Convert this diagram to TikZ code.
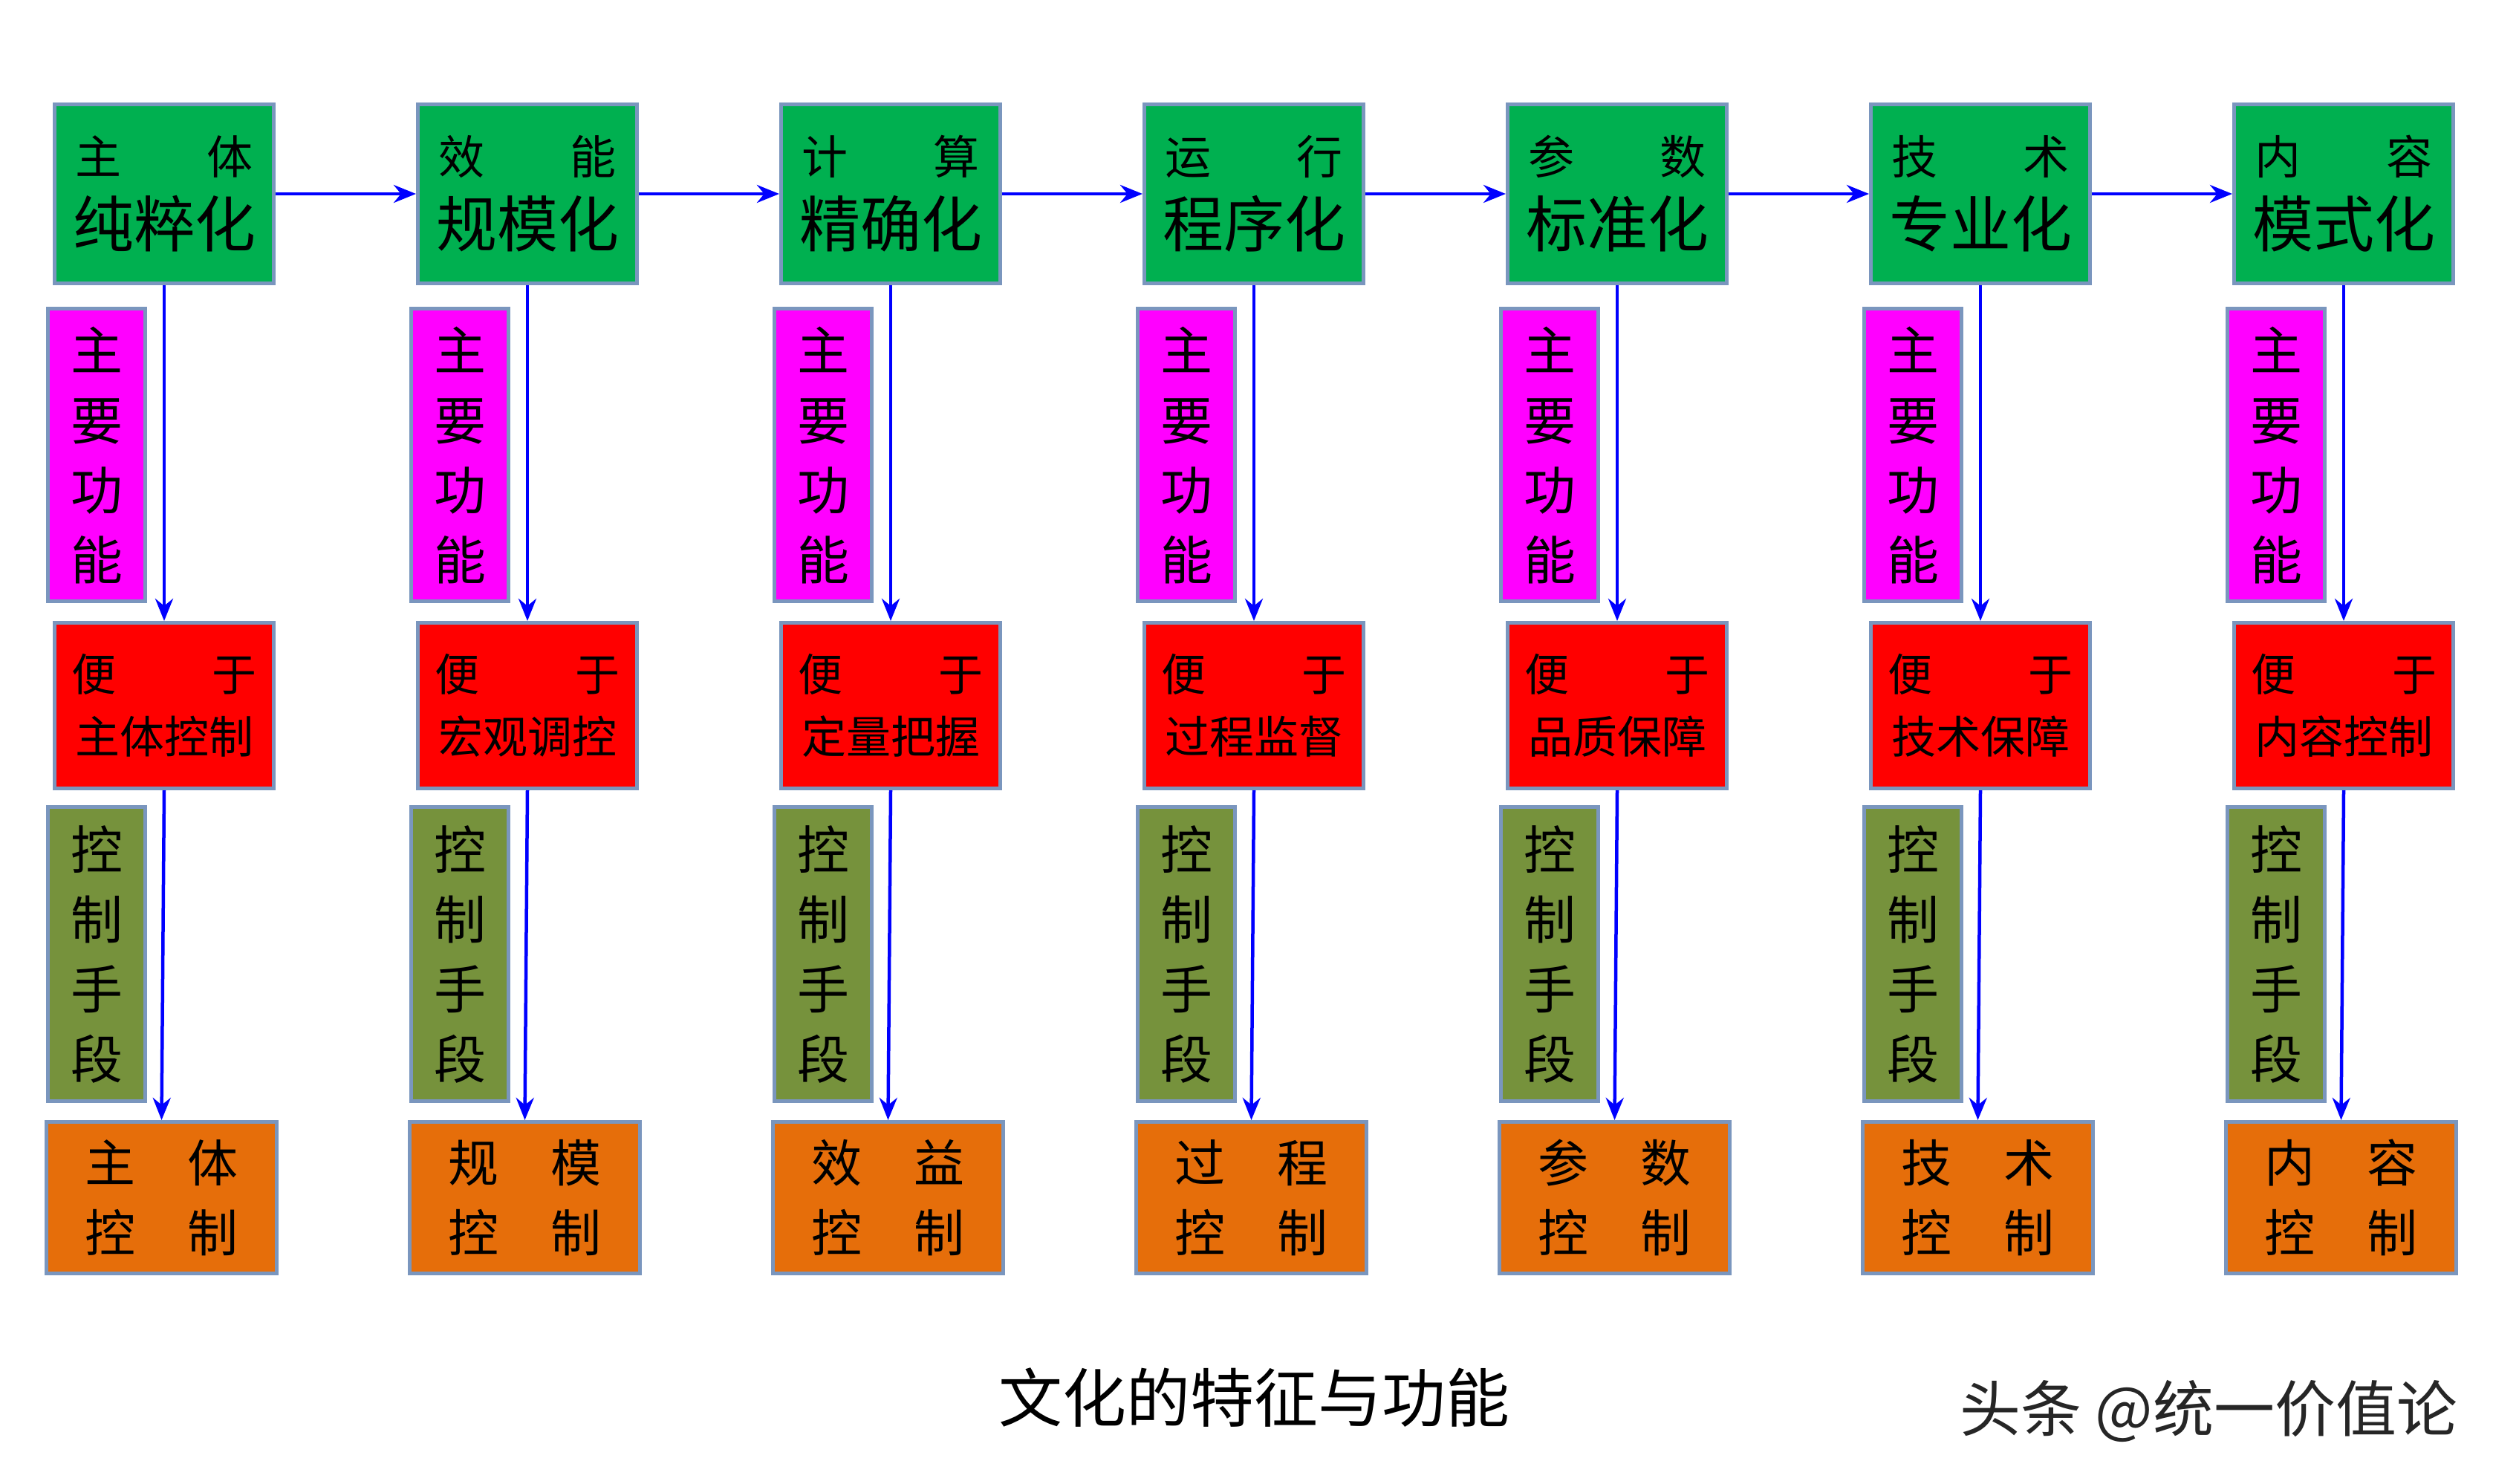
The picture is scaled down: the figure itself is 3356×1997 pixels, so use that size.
\documentclass[tikz,border=0pt]{standalone}
\usepackage{fontspec}
\setmainfont{Noto Sans CJK SC}
\usepackage{tikz}
\usetikzlibrary{arrows.meta}
\definecolor{boxline}{RGB}{122,150,190}
\definecolor{gfill}{RGB}{0,176,80}
\definecolor{mfill}{RGB}{255,0,255}
\definecolor{rfill}{RGB}{255,0,0}
\definecolor{kfill}{RGB}{118,146,60}
\definecolor{ofill}{RGB}{230,110,10}
\tikzset{
  box/.style={draw=boxline, line width=5pt, anchor=north west, inner sep=0pt, align=center, text=black},
  link/.style={draw=blue, line width=4.5pt, -{Stealth[length=30pt,width=24pt]}},
}
\begin{document}
\begin{tikzpicture}[x=1pt,y=-1pt]
\useasboundingbox[fill=white] (0,0) rectangle (3356,1997);

\foreach \i/\a/\b/\c/\r/\p/\q in {0/主/体/纯粹化/主体控制/主/体,1/效/能/规模化/宏观调控/规/模,2/计/算/精确化/定量把握/效/益,3/运/行/程序化/过程监督/过/程,4/参/数/标准化/品质保障/参/数,5/技/术/专业化/技术保障/技/术,6/内/容/模式化/内容控制/内/容}{
  %green: feature
  \node[box, fill=gfill, minimum width=295pt, minimum height=241pt,
    font=\fontsize{82}{98}\selectfont] (g\i) at (71+489*\i,138)
    {{\fontsize{62}{98}\selectfont\makebox[240pt]{\a\hfill\b}}\\\c};
  %magenta: main function
  \node[box, fill=mfill, minimum width=131pt, minimum height=394pt,
    font=\fontsize{70}{94}\selectfont] (m\i) at (62+489*\i,413) {主\\要\\功\\能};
  %red: benefit
  \node[box, fill=rfill, minimum width=295pt, minimum height=223pt,
    font=\fontsize{60}{84}\selectfont] (r\i) at (71+489*\i,836)
    {\makebox[250pt]{便\hfill 于}\\\r};
  %olive: means of control
  \node[box, fill=kfill, minimum width=131pt, minimum height=396pt,
    font=\fontsize{70}{94}\selectfont] (k\i) at (62+489*\i,1084) {控\\制\\手\\段};
  %orange: control
  \node[box, fill=ofill, minimum width=310pt, minimum height=204pt,
    font=\fontsize{68}{94}\selectfont] (o\i) at (60+489*\i,1508)
    {\makebox[206pt]{\p\hfill\q}\\\makebox[206pt]{控\hfill 制}};
  \draw[link] (g\i.south) -- (r\i.north);
  \draw[link] (r\i.south) -- (o\i.north);
}
\foreach \i [evaluate=\i as \j using int(\i+1)] in {0,...,5}
  \draw[link] (g\i.east) -- (g\j.west);

% title and mark
\node (title) at (1688,1882) {\fontsize{86}{100}\selectfont 文化的特征与功能};
\node[anchor=east, text=black!85] (mark) at (3312,1900) {\fontsize{82}{90}\selectfont 头条 @统一价值论};
\end{tikzpicture}
\end{document}
